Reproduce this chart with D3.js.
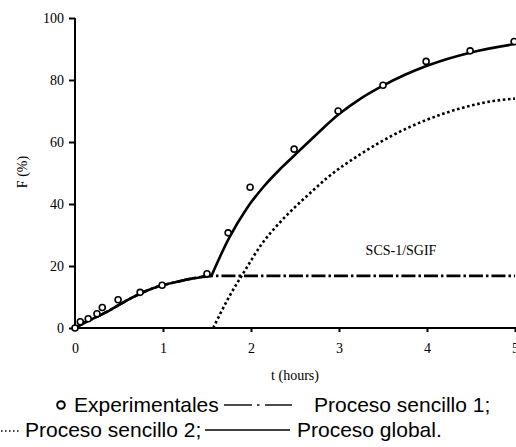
<!DOCTYPE html>
<html>
<head>
<meta charset="utf-8">
<script src="https://cdn.jsdelivr.net/npm/d3@7"></script>
<style>
  html, body { margin: 0; padding: 0; background: #fff; }
  svg { display: block; }
</style>
</head>
<body>
<svg id="chart" width="516" height="447"></svg>
<script>
// ---- data ----
const xTicks = [0, 1, 2, 3, 4, 5];
const yTicks = [0, 20, 40, 60, 80, 100];

const expT = [0, 0.06, 0.15, 0.25, 0.31, 0.49, 0.74, 0.99, 1.5, 1.74, 1.99, 2.49, 2.99, 3.5, 3.99, 4.49, 4.99];
const expF = [0, 2.0, 3.0, 4.6, 6.6, 9.1, 11.5, 13.8, 17.5, 30.7, 45.4, 57.7, 70.0, 78.3, 86.0, 89.4, 92.4];

const p1T = [0, 0.1, 0.21, 0.4, 0.59, 0.78, 0.97, 1.16, 1.34, 1.53, 2, 3, 4, 5];
const p1F = [0, 1.6, 3.1, 5.8, 8.9, 11.6, 13.6, 14.9, 16.0, 16.8, 16.8, 16.8, 16.8, 16.8];

const p2T = [1.57, 1.75, 1.93, 2.12, 2.31, 2.5, 2.71, 2.86, 3.24, 3.62, 4.0, 4.375, 4.75, 5.0];
const p2F = [0, 10, 18.5, 27, 33.5, 39, 44.5, 48.3, 56, 62.3, 67.2, 70.8, 73.2, 74.0];

const glT = [0, 0.1, 0.21, 0.4, 0.59, 0.78, 0.97, 1.16, 1.34, 1.55, 1.75, 1.95, 2.15, 2.35, 2.55, 2.75, 3.0, 3.25, 3.5, 3.75, 4.0, 4.5, 5.0];
const glF = [0, 1.6, 3.1, 5.8, 8.9, 11.6, 13.6, 14.9, 16.0, 16.8, 29.0, 38.5, 45.8, 51.8, 57.2, 62.6, 69.0, 74.1, 78.2, 81.7, 84.6, 88.9, 91.6];
const glKink = 1.55; // where process 2 starts and the global curve bends sharply

const seriesLabel = "SCS-1/SGIF";
const xLabel = "t (hours)";
const yLabel = "F (%)";

// ---- chart ----
const svg = d3.select("#chart");
const serif = "'Liberation Serif', 'Times New Roman', serif";
const sans = "'Liberation Sans', Arial, sans-serif";

const x = d3.scaleLinear().domain([0, 5]).range([75, 515]);
const y = d3.scaleLinear().domain([0, 100]).range([328, 18]);

const zip = (a, b) => a.map((v, i) => [v, b[i]]);
const line = d3.line().x(d => x(d[0])).y(d => y(d[1])).curve(d3.curveMonotoneX);

// axes
const yAxis = svg.append("g").attr("transform", "translate(75,0)")
  .call(d3.axisLeft(y).tickValues(yTicks).tickFormat(d3.format("d")).tickSize(6).tickSizeOuter(0).tickPadding(5));
yAxis.select(".domain").attr("stroke-width", 2).attr("d", `M0,${y(100)}V${y(0) + 1}`);
yAxis.selectAll(".tick line").attr("stroke-width", 2);
yAxis.selectAll("text").attr("font-family", serif).attr("font-size", 14).attr("fill", "#000");

const xAxis = svg.append("g").attr("transform", "translate(0,328)")
  .call(d3.axisBottom(x).tickValues(xTicks).tickFormat(d3.format("d")).tickSize(4).tickSizeOuter(0).tickPadding(11));
xAxis.select(".domain").attr("stroke-width", 2).attr("d", `M${x(0) - 1},0H516`);
xAxis.selectAll(".tick line").attr("stroke-width", 2).filter(d => d === 0).remove();
xAxis.selectAll("text").attr("font-family", serif).attr("font-size", 14).attr("fill", "#000");

// axis labels
svg.append("text").attr("x", 295).attr("y", 380).attr("text-anchor", "middle")
  .attr("font-family", serif).attr("font-size", 14).text(xLabel);
svg.append("text").attr("transform", "translate(27,172) rotate(-90)").attr("text-anchor", "middle")
  .attr("font-family", serif).attr("font-size", 14).text(yLabel);
svg.append("text").attr("x", 401).attr("y", 255).attr("text-anchor", "middle")
  .attr("font-family", serif).attr("font-size", 14).text(seriesLabel);

// curves
svg.append("path").datum(zip(p1T, p1F)).attr("d", line).attr("fill", "none")
  .attr("stroke", "#000").attr("stroke-width", 2.6).attr("stroke-dasharray", "14,3,2.5,3");
svg.append("path").datum(zip(p2T, p2F)).attr("d", line).attr("fill", "none")
  .attr("stroke", "#000").attr("stroke-width", 2.6).attr("stroke-dasharray", "2.6,2.6");
const gl = zip(glT, glF);
const glParts = [gl.filter(d => d[0] <= glKink), gl.filter(d => d[0] >= glKink)];
svg.append("g").selectAll("path").data(glParts).join("path").attr("d", line).attr("fill", "none")
  .attr("stroke", "#000").attr("stroke-width", 2.6).attr("stroke-linejoin", "round");

// experimental points
svg.append("g").selectAll("circle").data(zip(expT, expF)).join("circle")
  .attr("cx", d => x(d[0])).attr("cy", d => y(d[1])).attr("r", 3)
  .attr("fill", "#fff").attr("stroke", "#000").attr("stroke-width", 1.6);

// legend
const lg = svg.append("g").attr("font-family", sans).attr("font-size", 21).attr("fill", "#000");
const l1 = 412, l2 = 437;
lg.append("circle").attr("cx", 61).attr("cy", l1 - 7).attr("r", 3.8)
  .attr("fill", "#fff").attr("stroke", "#000").attr("stroke-width", 2);
lg.append("text").attr("x", 74).attr("y", l1).text("Experimentales");
lg.append("line").attr("x1", 224).attr("x2", 252).attr("y1", l1 - 7).attr("y2", l1 - 7).attr("stroke", "#000").attr("stroke-width", 1.4);
lg.append("line").attr("x1", 257).attr("x2", 259.5).attr("y1", l1 - 7).attr("y2", l1 - 7).attr("stroke", "#000").attr("stroke-width", 1.4);
lg.append("line").attr("x1", 265).attr("x2", 292).attr("y1", l1 - 7).attr("y2", l1 - 7).attr("stroke", "#000").attr("stroke-width", 1.4);
lg.append("text").attr("x", 314).attr("y", l1).text("Proceso sencillo 1;");

lg.append("line").attr("x1", 1).attr("x2", 21).attr("y1", l2 - 6).attr("y2", l2 - 6)
  .attr("stroke", "#000").attr("stroke-width", 1.5).attr("stroke-dasharray", "1.5,2.5");
lg.append("text").attr("x", 25).attr("y", l2).text("Proceso sencillo 2;");
lg.append("line").attr("x1", 205).attr("x2", 290).attr("y1", l2 - 7).attr("y2", l2 - 7).attr("stroke", "#000").attr("stroke-width", 1.4);
lg.append("text").attr("x", 297).attr("y", l2).text("Proceso global.");
</script>
</body>
</html>
